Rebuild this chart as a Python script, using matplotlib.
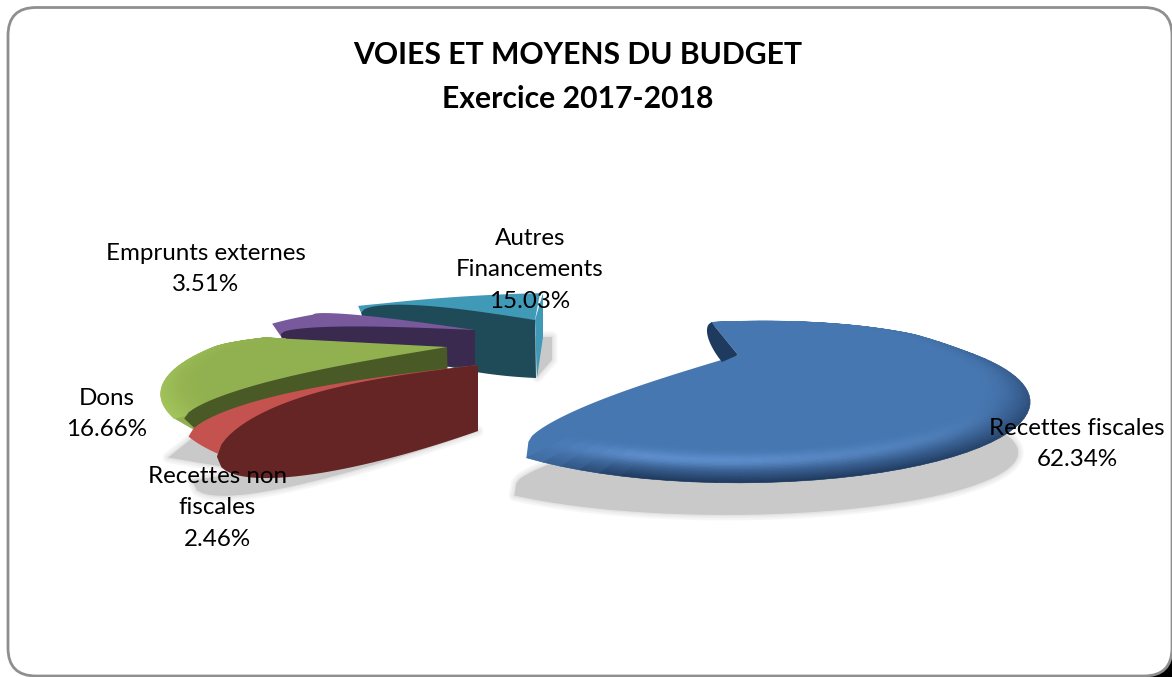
import matplotlib
matplotlib.use("Agg")
import matplotlib.pyplot as plt
import numpy as np
from matplotlib.collections import PolyCollection
from matplotlib.colors import to_rgb
from matplotlib.patches import FancyBboxPatch, Polygon

plt.rcParams["font.family"] = ["Lato", "DejaVu Sans"]

W, H = 1172, 677

TITLE = "VOIES ET MOYENS DU BUDGET\nExercice 2017-2018"
CATEGORIES = ["Recettes fiscales", "Recettes non\nfiscales", "Dons",
              "Emprunts externes", "Autres\nFinancements"]
VALUES = [62.34, 2.46, 16.66, 3.51, 15.03]

START = -12.0   # first slice edge, degrees clockwise from the back of the pie
K, SX, SY = 0.58, 238.0, 53.7   # perspective of the pie plane

# one entry per slice, same order as VALUES
STYLES = [
    dict(apex=(738, 355), top="#4777b1", wall="#1f3a5f", dark="#1d3557", light="#6fa3e6",
         rot=-7.5, skew=-70, sx=1.0, sy=1.0, near_bump=0, far_bump=24, wall_off=(-16, 7),
         tip_top=(0, 0), tip_bot=(0, 0), tip_far=(2, -16), bands=True, hl=0.8),
    dict(apex=(478, 365), top="#c4534f", wall="#652524", dark="#a8403d", light="#de6a64",
         rot=0, skew=0, sx=1.04, sy=1.0, near_bump=60, far_bump=38, wall_off=(0, 66),
         tip_top=(-1, 3), tip_bot=(-1, 3), tip_far=(0, 0), bands=False, hl=0),
    dict(apex=(447, 347), top="#91b04f", wall="#4a5a27", dark="#adcf62", light="#abc962",
         rot=0, skew=-600, sx=0.98, sy=1.0, near_bump=28, far_bump=0, wall_off=(1, 40),
         tip_top=(10, 0), tip_bot=(26, 15), tip_far=(0, 0), bands=True, hl=0),
    dict(apex=(475, 330), top="#77599c", wall="#3a2a50", dark="#5f4680", light="#8465aa",
         rot=-4, skew=-100, sx=0.93, sy=1.0, near_bump=12, far_bump=8, wall_off=(0, 36),
         tip_top=(9, 10), tip_bot=(9, 13), tip_far=(0, 0), bands=False, hl=0),
    dict(apex=(535, 320), top="#3f99b7", wall="#1f4a57", dark="#37889f", light="#4aa9c6",
         rot=0, skew=-110, sx=1.1, sy=0.8, near_bump=20, far_bump=0, wall_off=(1, 58),
         tip_top=(3, 7), tip_bot=(3, 7), tip_far=(0, 0), bands=False, hl=0),
]


def project(st, theta, r=1.0):
    th = np.radians(theta)
    u, v = r * np.sin(th), -r * np.cos(th)
    w = 1 - K * v
    # slices lean towards the middle of the picture at the back only
    lean = st["skew"] * (1 / w - 1) * np.clip(-v / 0.5, 0, 1)
    x = st["apex"][0] + st["sx"] * SX * u / w + lean
    y = st["apex"][1] + st["sy"] * SY * v / w
    return np.column_stack([x, y]) if np.ndim(x) else np.array([x, y])


def edge(apex, rim_pt, bump=0.0, off=(0, 0)):
    s = np.linspace(0, 1, 60)
    bow = np.sqrt(1 - s ** 2)
    x = apex[0] + s * (rim_pt[0] - apex[0]) + off[0] * bow
    y = apex[1] + s * (rim_pt[1] - apex[1]) - bump * s * bow + off[1] * bow
    return np.column_stack([x, y])


def slice_parts(st, t0, t1):
    t0, t1 = t0 + st["rot"], t1 + st["rot"]
    apex = np.array(st["apex"], float)
    rim = project(st, np.linspace(t0, t1, 120))
    far = edge(apex, rim[-1] + st["tip_far"], st["far_bump"])
    near_end = rim[0] + st["tip_top"]
    low_end = rim[0] + st["tip_bot"]
    near = edge(apex, near_end, st["near_bump"])
    low = edge(apex, low_end, 0, st["wall_off"])
    top = np.vstack([far, rim[::-1], [low_end]])
    wall = np.vstack([near, low[::-1]])
    return top, wall, low, rim


def band_cells(st, t0, t1, r0=0.86):
    main, dark, light = [np.array(to_rgb(st[c])) for c in ("top", "dark", "light")]
    thetas = np.linspace(t0, t1, 90) + st["rot"]
    radii = np.linspace(r0, 1, 28)
    cells, colors = [], []
    for a, b in zip(thetas[:-1], thetas[1:]):
        fade = np.clip((thetas[-1] - a) / 14, 0, 1)
        for r1, r2 in zip(radii[:-1], radii[1:]):
            cells.append([project(st, a, r1), project(st, b, r1),
                          project(st, b, r2), project(st, a, r2)])
            t = (r1 - r0) / (1 - r0)
            front = (0.5 - 0.5 * np.cos(np.radians(a))) ** 2
            d = t ** 2.4 * front * fade
            hl = np.exp(-((t - 0.45) / 0.22) ** 2) * np.clip((a - 130) / 50, 0, 1) * fade
            colors.append(main * (1 - d) + dark * d + st["hl"] * hl * (light - main) * (1 - d))
    return cells, colors


def shadow(ax, pts, color="#c9c9c9"):
    ax.add_patch(Polygon(pts, closed=True, fc=color, ec="none", zorder=1))
    for lw, alpha in [(8, 0.15), (5, 0.2), (2, 0.3)]:
        ax.add_patch(Polygon(pts, closed=True, fc="none", ec=color, lw=lw, alpha=alpha,
                             joinstyle="round", zorder=1))


fig = plt.figure(figsize=(W / 100, H / 100), dpi=100)
ax = fig.add_axes([0, 0, 1, 1])
ax.set_xlim(0, W)
ax.set_ylim(H, 0)
ax.axis("off")

# dark corner behind the rounded frame, then the frame
ax.add_patch(Polygon([(1135, H), (W, H), (W, 640)], closed=True, fc="black", ec="none", zorder=0))
ax.add_patch(FancyBboxPatch((8, 7.5), 1164, 668.5, boxstyle="round,pad=0,rounding_size=28",
                            fc="white", ec="#8f8f8f", lw=2, zorder=0.5))

edges = START + np.cumsum([0] + VALUES) * 3.6
parts = [slice_parts(st, a, b) for st, a, b in zip(STYLES, edges[:-1], edges[1:])]

# ground shadows
blue_top = parts[0][0]
shadow(ax, np.column_stack([blue_top[:, 0] - 12, 515 + 0.77 * (blue_top[:, 1] - 483)]))
green_tip = parts[2][3][0]
shadow(ax, green_tip + [(-6, 39), (30, 10), (60, 50)])
red_low = parts[1][2]
shadow(ax, red_low + np.outer(np.linspace(0, 1, len(red_low)) ** 2, (-25, 24)))
shadow(ax, np.array(STYLES[4]["apex"]) + [(0, 17), (17, 17), (17, 40), (2, 57)])

# back to front, the big slice stands apart
for i in [4, 3, 2, 1, 0]:
    st = STYLES[i]
    top, wall, low, rim = parts[i]
    ax.add_patch(Polygon(top, closed=True, fc=st["top"], ec="none", zorder=2 + 4 - i))
    if st["bands"]:
        cells, colors = band_cells(st, edges[i], edges[i + 1])
        ax.add_collection(PolyCollection(cells, facecolors=colors, edgecolors=colors,
                                         linewidths=0.4, zorder=2.2 + 4 - i))
    ax.add_patch(Polygon(wall, closed=True, fc=st["wall"], ec="none", zorder=2.4 + 4 - i))
    if i == 4:
        a = np.array(st["apex"], float)
        ax.add_patch(Polygon(a + [(0, 0), (8, -27), (8, 17), (2, 58)], closed=True,
                             fc="#3f99b7", ec="none", zorder=2.5))

ax.text(578, 77, TITLE, ha="center", va="center", fontsize=21.7, fontweight="bold",
        linespacing=1.66, color="black", zorder=10)

LABEL_POS = [(1077, 444), (217, 508), (107, 414), (206, 269), (530, 270)]
for cat, val, (x, y) in zip(CATEGORIES, VALUES, LABEL_POS):
    ax.text(x, y, f"{cat}\n{val:.2f}%", ha="center", va="center", fontsize=17.4,
            linespacing=1.62, color="black", zorder=10)

fig.savefig("out.png", dpi=100)
